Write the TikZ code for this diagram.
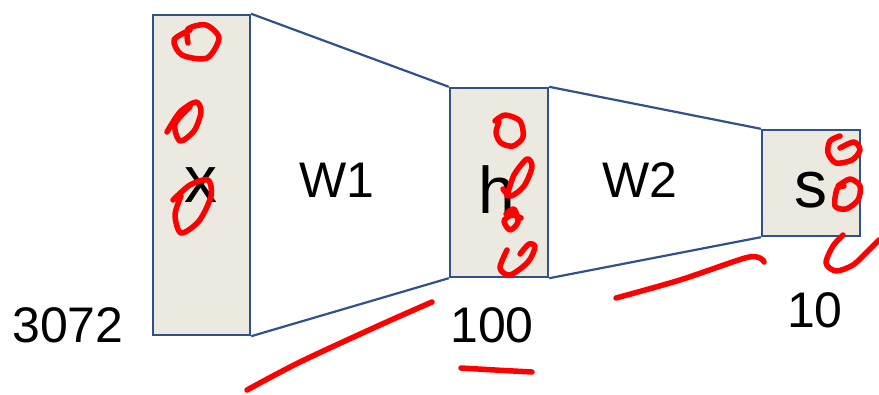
\documentclass[tikz,border=0pt]{standalone}
\usepackage{fontspec}
\setmainfont{Liberation Sans}
\usepackage{tikz}
\definecolor{boxfill}{RGB}{236,234,224}
\definecolor{boxline}{RGB}{47,82,143}
\definecolor{pen}{RGB}{255,0,0}

\begin{document}
\begin{tikzpicture}[x=1pt, y=-1pt,
  layer/.style={draw=boxline, line width=2.4pt, fill=boxfill, inner sep=0pt},
  big/.style={font=\fontsize{66}{68}\selectfont, inner sep=0pt},
  lab/.style={font=\fontsize{50}{52}\selectfont, inner sep=0pt},
  wire/.style={draw=boxline, line width=2.2pt},
  ink/.style={draw=pen, line width=5.5pt, line cap=round, line join=round}]
\useasboundingbox (0,0) rectangle (879,394);
% layers
\node[layer, minimum width=97pt, minimum height=320pt] (bx) at (201.5,175) {};
\node[layer, minimum width=98pt, minimum height=189pt] (bh) at (499,182.5) {};
\node[layer, minimum width=98pt, minimum height=106pt] (bs) at (811,183) {};
\draw[wire] (bx.north east) -- (bh.north west);
\draw[wire] (bx.south east) -- (bh.south west);
\draw[wire] (bh.north east) -- (bs.north west);
\draw[wire] (bh.south east) -- (bs.south west);
% texts
\node[big] (tx) at (201,185) {x};
\node[big] (th) at (497,190) {h};
\node[big] (ts) at (811,190) {s};
\node[lab] (w1) at (337,180) {W1};
\node[lab] (w2) at (640,180) {W2};
\node[lab] (n1) at (68,325) {3072};
\node[lab] (n2) at (492,325) {100};
\node[lab] (n3) at (815,310) {10};
% pen marks
\draw[ink] plot[smooth] coordinates {(188,43) (188,29) (206,25) (219,38) (207,58) (182,55) (174,40) (190,30)};
\draw[ink] plot[smooth] coordinates {(167,132) (180,112) (196,102) (201,112) (194,131) (180,141) (175,124) (190,107)};
\draw[ink] plot[smooth] coordinates {(173,200) (190,185) (208,180) (211,196) (199,221) (181,233) (175,215) (181,196)};
\draw[ink] plot[smooth] coordinates {(499,122) (496,133) (501,143) (513,146) (523,137) (520,121) (505,115) (495,121)};
\draw[ink] plot[smooth] coordinates {(507,196) (514,175) (527,159) (532,167) (524,186) (511,196) (503,189)};
\draw[ink] plot[smooth] coordinates {(506,214) (514,209) (518,222) (510,230) (504,221) (512,215) (521,218)};
\draw[ink] plot[smooth] coordinates {(507,250) (500,268) (510,275) (528,262) (535,247) (529,244) (520,254)};
\draw[ink] plot[smooth] coordinates {(840,136) (830,141) (828,153) (836,163) (852,160) (860,150) (854,142) (840,148)};
\draw[ink] plot[smooth] coordinates {(844,186) (837,189) (835,206) (846,209) (858,200) (860,186) (850,179) (838,186)};
\draw[ink] plot[smooth] coordinates {(843,235) (833,246) (826,263) (836,271) (853,265) (867,252) (879,240)};
\draw[ink] plot[smooth] coordinates {(247,390) (300,362) (380,325) (432,302)};
\draw[ink] plot[smooth] coordinates {(616,298) (680,280) (745,258) (760,258) (764,262)};
\draw[ink] plot[smooth] coordinates {(461,368) (495,370) (532,372)};
\end{tikzpicture}
\end{document}
